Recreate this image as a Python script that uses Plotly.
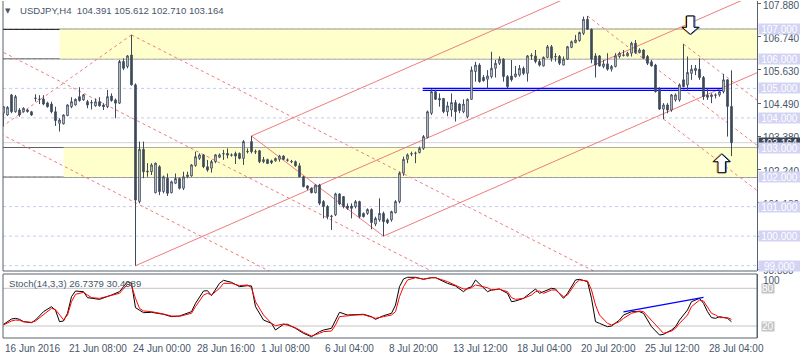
import plotly.graph_objects as go

# ---------------- data ----------------
opens = [104.16,104.10,104.78,104.21,104.27,104.21,104.27,104.21,104.66,104.64,
         104.64,104.51,104.47,104.21,103.82,103.80,104.08,104.38,104.44,104.72,
         104.61,104.55,104.52,104.41,104.55,104.44,104.38,104.74,104.61,104.50,
         105.91,105.74,106.13,105.12,101.17,102.94,102.20,102.18,101.47,102.35,
         101.51,101.96,101.47,101.79,101.95,101.62,102.01,102.04,102.39,102.63,
         102.75,102.35,102.30,102.52,102.67,102.78,102.80,102.75,102.80,102.80,
         102.63,102.87,103.20,102.86,102.89,102.52,102.59,102.55,102.55,102.60,
         102.71,102.58,102.53,102.52,102.38,102.01,101.70,101.62,101.47,101.73,
         101.17,101.00,100.68,100.72,101.43,101.34,101.02,101.02,101.00,101.17,
         100.77,100.77,100.90,100.41,100.55,100.77,100.55,100.55,100.79,101.17,
         102.13,102.60,102.78,102.80,102.83,102.97,103.34,104.16,104.89,104.66,
         104.66,104.21,104.27,104.52,104.47,104.21,104.04,104.63,105.57,105.79,
         105.37,105.31,105.40,105.68,105.85,105.99,105.40,105.42,105.40,105.45,
         105.68,105.51,106.11,106.10,105.91,105.76,106.05,106.41,106.08,106.08,
         105.79,105.99,106.39,106.55,106.62,106.86,107.34,107.00,106.10,106.10,
         105.74,105.83,105.65,105.74,106.08,106.13,106.10,106.19,106.53,106.21,
         106.30,106.08,105.90,105.79,104.97,104.30,104.44,104.27,104.61,104.61,
         105.29,105.12,105.51,105.60,105.65,105.37,104.77,104.72,104.78,104.78,
         104.89,105.29,104.391]
highs = [104.40,104.40,104.81,104.78,104.33,104.36,104.30,104.24,104.80,104.77,
         104.77,104.55,104.55,104.38,103.99,104.12,104.46,104.70,104.66,105.04,
         104.81,104.61,104.61,104.66,104.70,104.50,104.95,104.83,104.66,105.96,
         106.02,106.13,106.81,105.17,103.20,103.20,102.47,102.47,102.49,102.40,
         102.05,102.12,101.88,102.12,101.98,102.18,102.18,102.44,102.86,102.80,
         102.78,102.58,102.58,102.78,102.80,102.92,102.97,102.80,102.86,102.83,
         103.25,102.97,103.39,102.93,102.92,102.68,102.62,102.59,102.66,102.75,
         102.74,102.63,102.58,102.56,102.47,102.04,101.73,101.65,101.75,101.77,
         101.22,101.05,100.72,101.47,101.45,101.36,101.11,101.11,101.22,101.20,
         100.80,100.94,100.94,100.66,101.28,100.83,100.60,100.86,101.22,102.18,
         102.69,102.80,102.86,102.86,103.03,103.42,104.25,104.97,104.95,104.83,
         104.67,104.55,104.83,104.61,104.50,104.63,104.66,105.74,105.90,105.85,
         105.45,105.62,106.24,105.96,106.08,106.02,105.45,105.96,105.76,105.79,
         105.74,106.13,106.19,106.30,105.99,106.08,106.47,106.47,106.19,106.13,
         106.08,106.44,106.62,106.81,106.92,107.43,107.45,107.03,106.19,106.13,
         105.96,106.19,105.79,106.19,106.24,106.30,106.24,106.58,106.64,106.36,
         106.32,106.13,105.96,105.83,105.04,104.50,104.50,104.81,104.83,105.17,
         106.50,106.08,105.79,105.79,106.02,105.42,105.00,104.83,104.83,104.95,
         105.49,105.31,105.612]
lows = [103.71,104.07,104.16,104.18,104.04,104.18,104.18,104.07,104.55,104.47,
        104.43,104.35,104.16,103.73,103.54,103.78,104.06,104.33,104.42,104.55,
        104.58,104.33,104.29,104.38,104.38,104.27,104.33,104.55,103.99,104.47,
        105.62,105.68,105.10,99.00,101.11,101.96,102.01,102.07,101.45,101.39,
        101.45,101.36,101.45,101.76,101.58,101.56,101.96,102.01,102.35,102.58,
        102.30,102.18,102.15,102.47,102.64,102.58,102.63,102.69,102.44,102.60,
        102.41,102.80,102.80,102.78,102.47,102.47,102.44,102.44,102.52,102.52,
        102.57,102.52,102.47,102.35,101.99,101.65,101.56,101.45,101.45,101.05,
        100.60,100.57,100.21,100.68,101.05,100.94,100.89,100.60,100.94,100.60,
        100.63,100.72,100.23,100.34,100.49,100.00,100.41,100.49,100.77,101.11,
        102.04,102.47,102.71,102.47,102.80,102.92,103.31,104.10,104.61,104.38,
        104.16,104.06,104.04,103.88,104.16,104.16,103.99,104.61,105.23,105.19,
        105.23,105.00,105.34,105.37,105.79,105.23,105.00,105.23,105.37,105.40,
        105.45,105.23,105.96,105.85,105.74,105.74,106.02,105.91,105.91,105.79,
        105.78,105.96,106.36,106.53,106.58,106.81,106.98,105.85,105.37,105.74,
        105.68,105.60,105.57,105.71,106.02,106.08,106.08,106.08,106.17,106.19,
        105.99,105.79,105.74,104.86,104.27,103.96,104.16,104.21,104.55,104.55,
        105.04,104.95,105.29,105.45,105.29,104.61,104.61,104.50,104.66,104.72,
        104.83,103.37,102.710]
closes = [104.38,104.36,104.21,104.72,104.10,104.33,104.22,104.10,104.67,104.63,
          104.47,104.38,104.21,103.91,103.93,104.10,104.44,104.55,104.63,104.59,
          104.78,104.44,104.51,104.55,104.41,104.38,104.72,104.59,104.50,105.91,
          105.68,106.10,105.12,101.22,102.94,102.18,102.18,102.41,102.47,101.51,
          102.01,101.45,101.84,101.95,101.62,102.01,102.07,102.41,102.69,102.75,
          102.35,102.24,102.52,102.75,102.75,102.79,102.74,102.74,102.71,102.63,
          103.20,102.86,102.86,102.85,102.52,102.59,102.46,102.49,102.63,102.71,
          102.60,102.57,102.52,102.38,102.01,101.68,101.62,101.47,101.73,101.11,
          101.00,100.66,100.67,101.43,101.09,101.00,100.94,100.94,101.17,100.66,
          100.66,100.90,100.46,100.60,100.77,100.49,100.46,100.83,101.17,102.13,
          102.60,102.75,102.79,102.81,102.97,103.37,104.21,104.89,104.63,104.61,
          104.21,104.41,104.52,104.21,104.25,104.47,104.63,105.62,105.79,105.23,
          105.26,105.42,105.68,105.85,105.99,105.40,105.06,105.29,105.49,105.68,
          105.51,106.10,106.10,105.91,105.79,106.05,106.41,106.02,106.07,105.85,
          105.99,106.41,106.58,106.64,106.89,107.34,107.00,105.99,105.79,105.76,
          105.83,105.65,105.74,106.10,106.19,106.12,106.19,106.53,106.21,106.30,
          106.02,105.85,105.76,104.89,104.30,104.44,104.27,104.78,104.78,105.12,
          105.06,105.54,105.65,105.68,105.37,104.72,104.70,104.78,104.77,104.89,
          105.29,104.391,103.164]
bars = list(range(len(opens)))

date_tick_bars = [0, 16, 32, 48, 64, 80, 96, 112, 128, 144, 160, 176]
date_tick_labels = ["16 Jun 2016", "21 Jun 08:00", "24 Jun 00:00", "28 Jun 16:00",
                    "1 Jul 08:00", "6 Jul 04:00", "8 Jul 20:00", "13 Jul 12:00",
                    "18 Jul 04:00", "20 Jul 20:00", "25 Jul 12:00", "28 Jul 04:00"]

price_tick_values = [107.88, 106.74, 105.63, 104.49, 103.38, 102.24, 101.13, 99.99, 98.88]
level_prices = [107, 106, 105, 104, 103, 102, 101, 100, 99]
zone_tops = [107, 103]
zone_bottoms = [106, 102]
zone_start_bars = [14, 15]
zone_edge_prices = [107, 106, 103, 102]
support_prices = [105.00, 104.935]
support_start_bar = 104.8
support_end_bar = 179.8
last_price = 103.164

# Andrews' pitchforks: (pivot1, pivot2, pivot3) as (bar, price)
pitchfork_june = [(-20, 107.60), (32, 106.81), (-2, 103.55)]
pitchfork_july_up = [(33, 99.00), (62, 103.39), (95, 100.00)]
pitchfork_july_down = [(146, 107.45), (170, 106.50), (165, 103.96)]

stoch_bars = [0, 2, 3, 4, 5, 7, 8, 10, 12, 13, 14, 15, 16, 17, 18, 20, 21, 22, 24, 27,
              29, 31, 32, 33, 34, 35, 37, 40, 42, 44, 47, 48, 50, 51, 52, 54, 55, 57, 59, 61,
              62, 63, 65, 67, 68, 70, 71, 73, 75, 77, 79, 80, 82, 83, 84, 86, 88, 90, 92, 93,
              95, 97, 98, 99, 100, 101, 103, 105, 107, 108, 111, 113, 115, 116, 117, 118, 121, 122, 124, 126,
              127, 128, 130, 132, 133, 134, 135, 137, 138, 140, 141, 143, 144, 146, 147, 148, 149, 151, 152, 154,
              155, 157, 159, 160, 162, 164, 165, 167, 168, 169, 171, 172, 174, 175, 176, 177, 178, 179, 181, 182]
stoch_k = [22.6, 31.1, 32.2, 30.6, 26.9, 25.3, 29.5, 42.8, 50.8, 45.0, 26.9, 28.0, 40.2, 66.7, 75.7, 74.6, 65.1, 64.0, 62.4, 69.3,
           74.6, 90.6, 87.9, 49.2, 45.5, 41.2, 41.8, 38.6, 34.9, 35.9, 42.8, 56.1, 75.7, 76.2, 68.3, 87.9, 92.7, 89.5, 82.6, 84.2,
           83.7, 50.8, 29.5, 24.2, 13.6, 22.7, 22.7, 16.3, 8.3, 3.0, 11.0, 13.6, 16.3, 29.5, 41.8, 37.5, 37.5, 38.6, 34.9, 30.6,
           36.4, 40.2, 53.4, 82.6, 94.8, 97.5, 97.5, 94.3, 96.9, 96.9, 87.9, 83.7, 74.6, 80.0, 82.6, 93.2, 74.6, 77.3, 78.9, 72.0,
           58.7, 59.8, 64.0, 74.6, 78.9, 72.0, 74.6, 80.0, 78.9, 64.0, 72.0, 93.2, 94.3, 90.6, 64.0, 26.9, 24.2, 18.9, 20.0, 29.5,
           37.5, 42.8, 42.8, 40.2, 18.9, 5.7, 6.7, 13.6, 18.9, 29.5, 45.5, 58.7, 64.0, 56.1, 42.8, 33.3, 32.2, 34.9, 32.2, 26.7379]
stoch_d = [21.6, 28.0, 29.5, 29.0, 26.9, 25.8, 28.0, 38.6, 48.1, 46.0, 37.5, 30.0, 37.5, 58.7, 70.4, 73.6, 69.3, 65.1, 64.0, 68.3,
           72.0, 86.4, 84.2, 64.0, 48.1, 43.9, 42.8, 39.1, 35.9, 35.4, 40.2, 50.8, 69.3, 72.0, 69.3, 80.0, 87.9, 87.9, 84.2, 85.3,
           81.0, 58.7, 37.5, 24.2, 20.5, 23.2, 21.6, 17.3, 9.9, 4.1, 8.3, 11.0, 12.0, 21.6, 34.9, 36.4, 37.5, 38.0, 34.9, 32.2,
           34.9, 37.5, 42.8, 66.7, 82.6, 93.2, 96.9, 94.8, 96.9, 96.9, 90.6, 85.3, 78.9, 78.9, 81.0, 85.3, 81.0, 77.3, 78.4, 74.6,
           65.1, 62.4, 64.0, 69.3, 74.6, 75.7, 72.0, 77.3, 77.3, 66.7, 69.3, 87.9, 93.2, 91.7, 77.3, 53.4, 37.5, 24.2, 21.6, 26.9,
           32.2, 40.2, 43.9, 42.8, 29.5, 16.3, 8.3, 12.0, 16.3, 24.2, 37.5, 50.8, 61.3, 59.8, 50.8, 40.2, 37.5, 33.3, 33.3, 30.4989]
divergence_bars = [155, 175]
divergence_values = [42.5, 65.5]
stoch_levels = [80, 20]
stoch_scale_labels = [100, 0]

arrow_down_at = (171.7, 106.83)
arrow_up_at = (179.55, 102.78)

# ---------------- styling ----------------
FONT = "Liberation Sans"
TXT = "#48566a"
CANDLE = "#3d4a5c"
FRAME = "#58626f"
RED = "#f07c7c"
LAV = "#c9c9ec"
LAV_BG = "#d3d3f3"

X_RANGE = [-0.125, 188.375]
Y_RANGE = [98.8206, 107.9577]
Y2_RANGE = [0.9, 102.76]
MAIN_BOTTOM = 0.19881
IND_TOP = 0.18991
X_FAR = 260

fig = go.Figure()

fig.add_trace(go.Candlestick(
    x=bars, open=opens, high=highs, low=lows, close=closes,
    increasing=dict(fillcolor="white", line=dict(color=CANDLE, width=1)),
    decreasing=dict(fillcolor=CANDLE, line=dict(color=CANDLE, width=1)),
    whiskerwidth=0, xaxis="x", yaxis="y", showlegend=False, hoverinfo="skip"))

fig.add_trace(go.Scatter(x=stoch_bars, y=stoch_k, mode="lines", line=dict(color="black", width=1),
                         xaxis="x2", yaxis="y2", showlegend=False, hoverinfo="skip"))
fig.add_trace(go.Scatter(x=stoch_bars, y=stoch_d, mode="lines", line=dict(color="#ff0000", width=1),
                         xaxis="x2", yaxis="y2", showlegend=False, hoverinfo="skip"))
fig.add_trace(go.Scatter(x=divergence_bars, y=divergence_values, mode="lines",
                         line=dict(color="#0000ff", width=1.3),
                         xaxis="x2", yaxis="y2", showlegend=False, hoverinfo="skip"))

shapes = []
# yellow zones
for top, bot, start in zip(zone_tops, zone_bottoms, zone_start_bars):
    shapes.append(dict(type="rect", xref="x", yref="y", x0=start, x1=X_FAR, y0=bot, y1=top,
                       fillcolor="#ffffcc", line=dict(width=0), layer="below"))
# dashed lavender level lines
for p in level_prices:
    shapes.append(dict(type="line", xref="paper", yref="y", x0=0, x1=1, y0=p, y1=p,
                       line=dict(color=LAV, width=1, dash="3px,3px"), layer="below"))
# bid line
shapes.append(dict(type="line", xref="paper", yref="y", x0=0, x1=1, y0=last_price, y1=last_price,
                   line=dict(color="#d6d6d6", width=1), layer="below"))
# zone edge lines
for p in zone_edge_prices:
    shapes.append(dict(type="line", xref="paper", yref="y", x0=0, x1=1, y0=p, y1=p,
                       line=dict(color="#000000" if p == max(zone_edge_prices) else "#5e5e5e", width=1),
                       layer="below"))


def pitchfork_lines(pf, dash):
    (x1, y1), (x2, y2), (x3, y3) = pf
    mx, my = (x2 + x3) / 2, (y2 + y3) / 2
    slope = (my - y1) / (mx - x1)
    out = []
    for sx, sy in [(x1, y1), (x2, y2), (x3, y3)]:
        out.append(dict(type="line", xref="x", yref="y", x0=sx, y0=sy, x1=X_FAR,
                        y1=sy + slope * (X_FAR - sx),
                        line=dict(color=RED, width=1, dash=dash), layer="below"))
    out.append(dict(type="line", xref="x", yref="y", x0=x2, y0=y2, x1=x3, y1=y3,
                    line=dict(color=RED, width=1, dash=dash), layer="below"))
    return out


shapes += pitchfork_lines(pitchfork_june, "3px,3px")
shapes += pitchfork_lines(pitchfork_july_up, "solid")
shapes += pitchfork_lines(pitchfork_july_down, "3px,3px")[:3]

# blue double support line
for p in support_prices:
    shapes.append(dict(type="line", xref="x", yref="y", x0=support_start_bar, x1=support_end_bar,
                       y0=p, y1=p, line=dict(color="#0000ff", width=1.2), layer="below"))

# stochastic levels
for lv in stoch_levels:
    shapes.append(dict(type="line", xref="paper", yref="y2", x0=0, x1=1, y0=lv, y1=lv,
                       line=dict(color="#c4c4c4", width=1), layer="below"))

# pane frames
shapes.append(dict(type="line", xref="paper", yref="paper", x0=0, x1=0, y0=MAIN_BOTTOM, y1=1,
                   line=dict(color=FRAME, width=1)))
shapes.append(dict(type="line", xref="paper", yref="paper", x0=0, x1=1, y0=MAIN_BOTTOM, y1=MAIN_BOTTOM,
                   line=dict(color=FRAME, width=1)))
shapes.append(dict(type="rect", xref="paper", yref="paper", x0=0, x1=1, y0=0, y1=IND_TOP,
                   line=dict(color=FRAME, width=1)))


def arrow_path(points, dx):
    return "M" + " L".join(f"{x + dx},{y}" for x, y in points) + " Z"


down_pts = [(0, 0), (-8.3, 7), (-3.7, 7), (-3.7, 18.3), (3.7, 18.3), (3.7, 7), (8.3, 7)]
up_pts = [(0, 0), (-8.3, -7.7), (-3.7, -7.7), (-3.7, -18.7), (3.7, -18.7), (3.7, -7.7), (8.3, -7.7)]
for (ax, ay), pts in [(arrow_down_at, down_pts), (arrow_up_at, up_pts)]:
    for dx, col, fill in [(-1, "#f0a030", "rgba(0,0,0,0)"), (1, "#3a78e8", "rgba(0,0,0,0)"), (0, "#000000", "white")]:
        shapes.append(dict(type="path", xref="x", yref="y", xsizemode="pixel", ysizemode="pixel",
                           xanchor=ax, yanchor=ay, path=arrow_path(pts, dx),
                           fillcolor=fill, line=dict(color=col, width=1), layer="above"))

annotations = []
# header
annotations.append(dict(xref="paper", yref="paper", x=0.0066, y=0.9718, xanchor="center", yanchor="middle",
                        text="▼", showarrow=False, font=dict(family="DejaVu Sans", size=7, color=TXT)))
annotations.append(dict(xref="paper", yref="paper", x=0.0199, y=0.9718, xanchor="left", yanchor="middle",
                        text="USDJPY,H4  104.391 105.612 102.710 103.164", showarrow=False,
                        font=dict(family=FONT, size=9.6, color=TXT)))
annotations.append(dict(xref="paper", yref="paper", x=0.0057, y=0.1623, xanchor="left", yanchor="middle",
                        text="Stoch(14,3,3) 26.7379 30.4989", showarrow=False,
                        font=dict(family=FONT, size=9.6, color=TXT)))
# date labels, left-aligned at their bar like the terminal draws them
for b, lab in zip(date_tick_bars, date_tick_labels):
    annotations.append(dict(xref="x2", yref="paper", x=b, y=-0.0297, xanchor="left", yanchor="middle",
                            xshift=-1, text=lab, showarrow=False, font=dict(family=FONT, size=10, color=TXT)))
# price scale labels (drawn just below their tick, the top one kept inside the window)
for v in price_tick_values:
    annotations.append(dict(xref="paper", yref="y", x=1, y=v, xanchor="left", yanchor="middle",
                            xshift=4, yshift=-2.6 if v == max(price_tick_values) else -1.3,
                            text=f"{v:.3f}", showarrow=False, font=dict(family=FONT, size=10, color=TXT)))
# current price label (partly hidden under the 103.000 line label, as in the terminal)
annotations.append(dict(xref="paper", yref="y", x=1, y=last_price, xanchor="left", yanchor="middle",
                        xshift=1, yshift=0, text=f"{last_price:.3f}", showarrow=False, width=41, height=10,
                        bgcolor="#3a4656", borderpad=0, font=dict(family=FONT, size=10, color="white")))
# level labels
for p in level_prices:
    annotations.append(dict(xref="paper", yref="y", x=1, y=p, xanchor="left", yanchor="middle",
                            xshift=1, text=f"{p:.3f}", showarrow=False, width=41, height=10,
                            bgcolor=LAV_BG, borderpad=0, font=dict(family=FONT, size=10, color="white")))
# stochastic axis labels
for lv in stoch_levels:
    annotations.append(dict(xref="paper", yref="y2", x=1, y=lv, xanchor="left", yanchor="middle", xshift=4,
                            text=str(lv), showarrow=False, bgcolor="#c4c4c4", borderpad=0, height=9,
                            font=dict(family=FONT, size=10, color="white")))
for lv, shift in zip(stoch_scale_labels, [-5, 7]):
    annotations.append(dict(xref="paper", yref="y2", x=1, y=lv, xanchor="left", yanchor="middle", xshift=4,
                            yshift=shift, text=str(lv), showarrow=False,
                            font=dict(family=FONT, size=10, color=TXT)))

fig.update_layout(
    width=800, height=360,
    margin=dict(l=3, r=43, t=1, b=22, autoexpand=False),
    paper_bgcolor="white", plot_bgcolor="white",
    showlegend=False, hovermode=False, boxgap=0.45,
    font=dict(family=FONT, size=10, color=TXT),
    xaxis=dict(domain=[0, 1], anchor="y", range=X_RANGE, showticklabels=False, showgrid=False,
               zeroline=False, showline=False, ticks="", rangeslider=dict(visible=False),
               automargin=False),
    xaxis2=dict(domain=[0, 1], anchor="y2", range=X_RANGE, matches="x", showgrid=False, zeroline=False,
                showline=False, showticklabels=False, ticks="", automargin=False),
    yaxis=dict(domain=[MAIN_BOTTOM, 1], anchor="x", side="right", range=Y_RANGE, showgrid=False,
               zeroline=False, showline=True, linecolor=FRAME, linewidth=1, ticks="outside", ticklen=3,
               tickcolor=FRAME, tickmode="array", tickvals=price_tick_values, automargin=False,
               showticklabels=False),
    yaxis2=dict(domain=[0, IND_TOP], anchor="x2", side="right", range=Y2_RANGE, showgrid=False,
                zeroline=False, showline=True, linecolor=FRAME, linewidth=1, showticklabels=False,
                ticks="", automargin=False),
    shapes=shapes,
    annotations=annotations,
)

fig.write_html("out.html", config={"displayModeBar": False},
               post_script="document.body.style.margin='0px';document.body.style.padding='0px';")
